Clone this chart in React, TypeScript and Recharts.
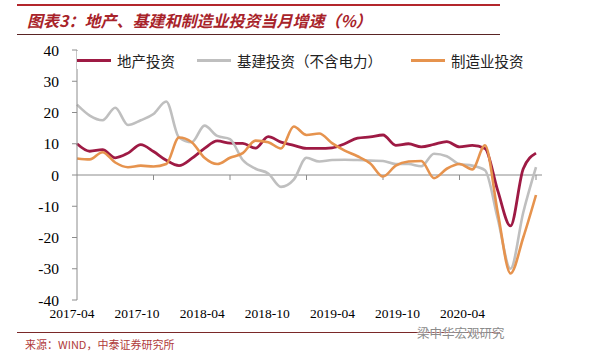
import { LineChart, Line, XAxis, YAxis, ReferenceLine } from "recharts";

const months = [
  "2017-04", "2017-05", "2017-06", "2017-07", "2017-08", "2017-09", "2017-10", "2017-11", "2017-12",
  "2018-01", "2018-02", "2018-03", "2018-04", "2018-05", "2018-06", "2018-07", "2018-08", "2018-09",
  "2018-10", "2018-11", "2018-12", "2019-01", "2019-02", "2019-03", "2019-04", "2019-05", "2019-06",
  "2019-07", "2019-08", "2019-09", "2019-10", "2019-11", "2019-12", "2020-01", "2020-02", "2020-03",
  "2020-04",
];

// 地产投资
const realEstate = [
  10, 7.6, 8.1, 5.5, 7, 9.7, 7.5, 4.7, 3, 5.3, 8.5, 10.9, 10.2,
  10.1, 8.6, 12.3, 10.5, 9.5, 8.5, 8.5, 8.7, 10, 11.8, 12.2, 12.8,
  9.5, 10, 9, 9.8, 10.7, 9, 9.5, 8.5, -5, -16.3, 2, 7,
];
// 基建投资（不含电力）
const infra = [
  22.5, 19, 17.5, 21.5, 16, 17.5, 19.5, 23.5, 12, 10.5, 15.8, 12.5, 11.5,
  4.8, 2, 0.5, -3.8, -1.5, 5.5, 4.3, 4.8, 4.9, 4.8, 4.6, 4.5,
  3.5, 3.5, 2.8, 6.8, 6, 3.5, 3, 1.5, -14, -30, -12, 2.5,
];
// 制造业投资
const manufacturing = [
  5.3, 5, 7.3, 4, 2.5, 3, 2.7, 3.5, 12, 10.5, 5.5, 3.5, 5.5,
  7, 11, 10.5, 8.5, 15.5, 12.8, 13.3, 10.2, 7.8, 6, 3.7, -0.5,
  3, 4.3, 4.5, -1, 2, 3.5, 1.8, 9.5, -12, -31.5, -20, -6.4,
];

const xLabels = ["2017-04", "2017-10", "2018-04", "2018-10", "2019-04", "2019-10", "2020-04"];
const tickMonths = ["2017-10", "2018-04", "2018-10", "2019-04", "2019-10", "2020-04"];
const yTicks = [-40, -30, -20, -10, 0, 10, 20, 30, 40];

const series = [
  { key: "re", name: "地产投资", color: "#9e1a44", width: 2.8 },
  { key: "infra", name: "基建投资（不含电力）", color: "#bfbfbf", width: 2.6 },
  { key: "mfg", name: "制造业投资", color: "#e6934e", width: 2.6 },
];

const rows = months.map((m, i) => ({ month: m, re: realEstate[i], infra: infra[i], mfg: manufacturing[i] }));

const serif = "'Liberation Serif', 'Times New Roman', serif";
const cjk = "'Noto Sans CJK SC', sans-serif";

// the source's date labels sit a little left of their tick marks, and drift further left along the axis
function DateTick(props: any) {
  const { x, y, payload } = props;
  const k = xLabels.indexOf(payload.value);
  const shift = -5 - 11.4 * k;
  return (
    <text x={x + shift} y={y} dy="0.71em" textAnchor="middle" fontSize={13.5} fill="#000" fontFamily={serif}>
      {payload.value}
    </text>
  );
}

export default function App() {
  return (
    <div style={{ position: "absolute", left: 0, top: 0, width: 604, height: 354, background: "#fff", overflow: "hidden" }}>
      <div style={{ position: "absolute", left: 17, top: 4, width: 483, height: 2, background: "#b3262c" }} />
      <div style={{ position: "absolute", left: 27, top: 9, fontFamily: cjk, fontSize: 16, fontWeight: 700, fontStyle: "italic", color: "#a8232a", whiteSpace: "nowrap", lineHeight: "22px" }}>
        图表3：地产、基建和制造业投资当月增速（%）
      </div>
      <div style={{ position: "absolute", left: 17, top: 34, width: 483, height: 1, background: "#5a2424" }} />

      <div style={{ position: "absolute", left: 0, top: 0 }}>
        <LineChart width={604} height={354} data={rows} margin={{ top: 50, right: 62, bottom: 24, left: 17 }}>
          <XAxis
            xAxisId="d"
            dataKey="month"
            ticks={xLabels}
            interval={0}
            padding={{ left: 0, right: 6 }}
            axisLine={false}
            tickLine={false}
            height={30}
            tick={<DateTick />}
          />
          <YAxis
            domain={[-40, 40]}
            ticks={yTicks}
            interval={0}
            width={60}
            axisLine={{ stroke: "#8c8c8c" }}
            tickLine={{ stroke: "#8c8c8c" }}
            tickSize={5}
            tickMargin={13}
            tick={{ fontSize: 15.5, fill: "#000", fontFamily: serif }}
          />
          <ReferenceLine xAxisId="d" y={0} stroke="#8c8c8c" strokeWidth={1} />
          {tickMonths.map((m) => (
            <ReferenceLine
              key={m}
              xAxisId="d"
              segment={[{ x: m, y: 0 }, { x: m, y: -1.6 }]}
              stroke="#8c8c8c"
            />
          ))}
          {series.map((s) => (
            <Line
              key={s.key}
              xAxisId="d"
              type="monotone"
              dataKey={s.key}
              name={s.name}
              stroke={s.color}
              strokeWidth={s.width}
              dot={false}
              isAnimationActive={false}
            />
          ))}
        </LineChart>
      </div>

      <div style={{ position: "absolute", left: 77, top: 51, display: "flex", alignItems: "center", height: 18, background: "#fff", fontFamily: cjk, fontSize: 14.5, color: "#222" }}>
        {series.map((s, i) => (
          <div key={s.key} style={{ display: "flex", alignItems: "center", marginRight: i === 0 ? 22 : 29 }}>
            <div style={{ width: 34, height: 3, background: s.color, marginRight: 6 }} />
            <span style={{ whiteSpace: "nowrap" }}>{s.name}</span>
          </div>
        ))}
      </div>

      <div style={{ position: "absolute", left: 17, top: 332, width: 483, height: 1, background: "#7a2828" }} />
      <div style={{ position: "absolute", left: 25, top: 337, fontFamily: cjk, fontSize: 11, color: "#b03a3a", whiteSpace: "nowrap", lineHeight: "14px" }}>
        来源：WIND，中泰证券研究所
      </div>
      <div style={{ position: "absolute", left: 417, top: 324, fontFamily: cjk, fontSize: 12.5, color: "#8a8a8a", whiteSpace: "nowrap", lineHeight: "17px", textShadow: "0 0 2px #fff, 0 0 2px #fff" }}>
        梁中华宏观研究
      </div>
    </div>
  );
}
